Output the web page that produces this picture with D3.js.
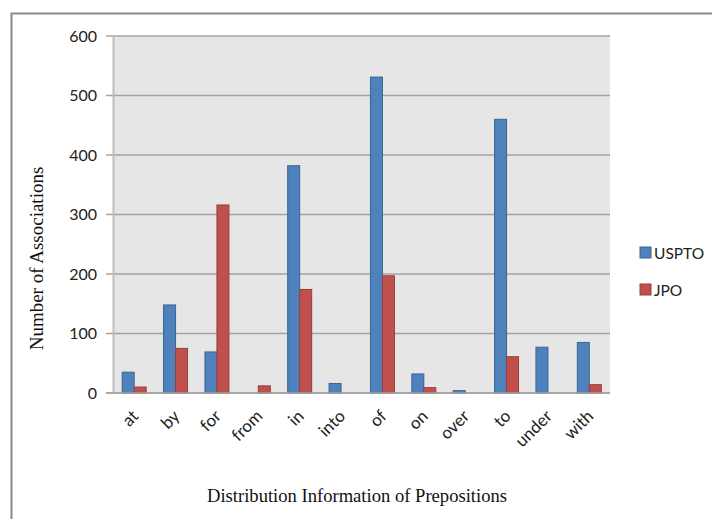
<!DOCTYPE html>
<html><head><meta charset="utf-8">
<script src="https://cdn.jsdelivr.net/npm/d3@7"></script>
<style>body{margin:0;background:#fff}svg{display:block}</style>
</head><body>
<script>
const categories = ["at","by","for","from","in","into","of","on","over","to","under","with"];
const usptoValues = [35,148,69,0,382,16,531,32,4,460,77,85];
const jpoValues = [10,75,316,12,174,0,197,9,0,61,0,14];
const seriesNames = ["USPTO","JPO"];
const yTicks = [0,100,200,300,400,500,600];

const W = 712, H = 519;
const sans = "Lato, 'Open Sans', 'Liberation Sans', sans-serif";
const svg = d3.select("body").append("svg").attr("width", W).attr("height", H);

// outer frame
svg.append("path").attr("d", "M11.5,519 V13.5 H712").attr("fill","none").attr("stroke","#8a8a8a").attr("stroke-width",2);

const pLeft = 113.5, pRight = 610, pTop = 36, pBottom = 393;
const x = d3.scaleBand().domain(categories).range([pLeft, pRight]).paddingInner(0.42).paddingOuter(0.21);
const x1 = d3.scaleBand().domain(seriesNames).range([0, x.bandwidth()]);
const y = d3.scaleLinear().domain([0, 600]).range([pBottom, pTop]);

svg.append("rect").attr("x", pLeft).attr("y", pTop).attr("width", pRight-pLeft).attr("height", pBottom-pTop).attr("fill","#e6e6e6");

// gridlines & ticks
svg.append("g").selectAll("line").data(yTicks).join("line")
  .attr("x1", 106).attr("x2", pRight).attr("y1", d=>y(d)).attr("y2", d=>y(d))
  .attr("stroke","#a3a3a3").attr("stroke-width",1.5);
// y axis line
svg.append("line").attr("x1", pLeft).attr("x2", pLeft).attr("y1", pTop).attr("y2", pBottom).attr("stroke","#bdbdbd").attr("stroke-width",2);

svg.append("g").selectAll("text").data(yTicks).join("text")
  .attr("x", 97).attr("y", d=>y(d)).attr("dy","0.36em").attr("text-anchor","end")
  .attr("font-family", sans).attr("font-size",16).attr("fill","#222")
  .text(d=>d);

const colors = {USPTO:{fill:"#4f81bd", stroke:"#3b6494"}, JPO:{fill:"#c0504d", stroke:"#983e3c"}};
const data = categories.map((c,i)=>({cat:c, vals:[{s:"USPTO", v:usptoValues[i]},{s:"JPO", v:jpoValues[i]}]}));

const g = svg.append("g").selectAll("g").data(data).join("g").attr("transform", d=>`translate(${x(d.cat)},0)`);
g.selectAll("rect").data(d=>d.vals.filter(e=>e.v>0)).join("rect")
  .attr("x", d=>x1(d.s)).attr("width", x1.bandwidth())
  .attr("y", d=>y(d.v)).attr("height", d=>pBottom - y(d.v))
  .attr("fill", d=>colors[d.s].fill).attr("stroke", d=>colors[d.s].stroke).attr("stroke-width",1);

// baseline
svg.append("line").attr("x1", 106).attr("x2", pRight).attr("y1", pBottom).attr("y2", pBottom).attr("stroke","#a3a3a3").attr("stroke-width",1.5);

// x labels
svg.append("g").selectAll("text").data(categories).join("text")
  .attr("transform", d=>`translate(${x(d)+x.bandwidth()/2+1},${pBottom+20}) rotate(-45)`)
  .attr("text-anchor","end").attr("dy","0.35em")
  .attr("font-family", sans).attr("font-size",17).attr("fill","#222")
  .text(d=>d);

// axis titles
svg.append("text").attr("transform", `translate(43,${(pTop+pBottom)/2+44}) rotate(-90)`)
  .attr("text-anchor","middle").attr("font-family","'Liberation Serif', serif").attr("font-size",19).attr("fill","#111")
  .text("Number of Associations");
svg.append("text").attr("x", 357).attr("y", 502).attr("text-anchor","middle")
  .attr("font-family","'Liberation Serif', serif").attr("font-size",19).attr("fill","#111")
  .attr("textLength", 300).attr("lengthAdjust","spacingAndGlyphs")
  .text("Distribution Information of Prepositions");

// legend
const leg = svg.append("g").selectAll("g").data(seriesNames).join("g")
  .attr("transform", (d,i)=>`translate(640,${247 + i*37})`);
leg.append("rect").attr("width",11).attr("height",11).attr("fill", d=>colors[d].fill).attr("stroke", d=>colors[d].stroke);
leg.append("text").attr("x", 14).attr("y", 6).attr("dy","0.36em")
  .attr("font-family", sans).attr("font-size",15.5).attr("fill","#222")
  .text(d=>d);
</script>
</body></html>
